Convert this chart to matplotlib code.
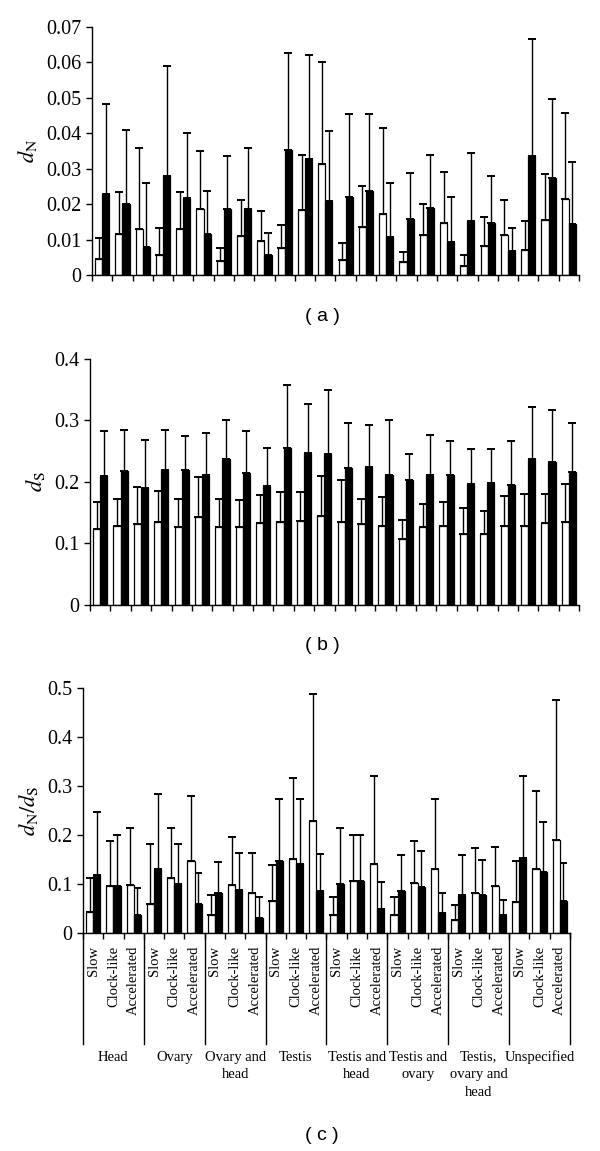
import numpy as np
import matplotlib
matplotlib.use("Agg")
from matplotlib import pyplot as plt
from matplotlib import transforms

plt.rcParams['font.family'] = ['Liberation Serif', 'DejaVu Serif']
plt.rcParams['mathtext.fontset'] = 'stix'

tissues = ["Head", "Ovary", "Ovary and\nhead", "Testis", "Testis and\nhead",
           "Testis and\novary", "Testis,\novary and\nhead", "Unspecified"]
rates = ["Slow", "Clock-like", "Accelerated"]

# bar heights and upper end of the error bar, white / black bars
dn_white = [0.0045, 0.0117, 0.0131, 0.0055, 0.0131, 0.0187, 0.0039, 0.0109, 0.0097, 0.0075, 0.0182, 0.0312,
            0.0042, 0.0134, 0.0171, 0.0036, 0.0112, 0.0148, 0.0026, 0.0083, 0.0112, 0.0070, 0.0155, 0.0215]
dn_white_top = [0.0105, 0.0235, 0.0358, 0.0132, 0.0235, 0.0350, 0.0077, 0.0211, 0.0181, 0.0142, 0.0338, 0.0600,
                0.0089, 0.0252, 0.0414, 0.0066, 0.0200, 0.0290, 0.0056, 0.0164, 0.0212, 0.0151, 0.0286, 0.0458]
dn_black = [0.0228, 0.0201, 0.0079, 0.0278, 0.0216, 0.0117, 0.0187, 0.0187, 0.0055, 0.0352, 0.0327, 0.0209,
            0.0221, 0.0236, 0.0107, 0.0159, 0.0190, 0.0094, 0.0151, 0.0146, 0.0069, 0.0337, 0.0275, 0.0144]
dn_black_top = [0.0483, 0.0409, 0.0259, 0.0589, 0.0401, 0.0238, 0.0336, 0.0357, 0.0119, 0.0627, 0.0622, 0.0406,
                0.0453, 0.0453, 0.0259, 0.0288, 0.0339, 0.0220, 0.0344, 0.0280, 0.0132, 0.0667, 0.0497, 0.0319]

ds_white = [0.123, 0.129, 0.131, 0.135, 0.127, 0.143, 0.127, 0.126, 0.134, 0.135, 0.137, 0.144,
            0.135, 0.131, 0.129, 0.107, 0.126, 0.128, 0.116, 0.116, 0.129, 0.129, 0.134, 0.135]
ds_white_top = [0.167, 0.172, 0.192, 0.186, 0.173, 0.208, 0.172, 0.170, 0.179, 0.183, 0.183, 0.210,
                0.203, 0.172, 0.175, 0.138, 0.164, 0.168, 0.158, 0.153, 0.178, 0.180, 0.180, 0.196]
ds_black = [0.210, 0.218, 0.190, 0.220, 0.220, 0.212, 0.238, 0.215, 0.193, 0.256, 0.247, 0.245,
            0.223, 0.225, 0.212, 0.203, 0.212, 0.212, 0.197, 0.198, 0.195, 0.238, 0.232, 0.216]
ds_black_top = [0.283, 0.285, 0.269, 0.285, 0.275, 0.279, 0.301, 0.283, 0.255, 0.357, 0.327, 0.350,
                0.296, 0.292, 0.300, 0.246, 0.276, 0.267, 0.254, 0.254, 0.267, 0.322, 0.317, 0.296]

ratio_white = [0.042, 0.095, 0.097, 0.059, 0.113, 0.146, 0.036, 0.097, 0.081, 0.065, 0.151, 0.229,
               0.036, 0.107, 0.141, 0.036, 0.103, 0.131, 0.027, 0.081, 0.095, 0.064, 0.131, 0.190]
ratio_white_top = [0.112, 0.188, 0.214, 0.181, 0.214, 0.279, 0.077, 0.195, 0.163, 0.139, 0.316, 0.488,
                   0.074, 0.199, 0.321, 0.074, 0.188, 0.273, 0.058, 0.173, 0.176, 0.146, 0.290, 0.475]
ratio_black = [0.118, 0.096, 0.037, 0.131, 0.099, 0.059, 0.081, 0.088, 0.031, 0.146, 0.141, 0.085,
               0.099, 0.107, 0.048, 0.086, 0.094, 0.040, 0.078, 0.078, 0.037, 0.153, 0.124, 0.066]
ratio_black_top = [0.247, 0.199, 0.091, 0.284, 0.182, 0.122, 0.144, 0.163, 0.073, 0.274, 0.273, 0.162,
                   0.214, 0.199, 0.105, 0.159, 0.168, 0.081, 0.160, 0.149, 0.067, 0.320, 0.226, 0.143]


def draw_panel(ax, white, white_top, black, black_top, ymax, step, ylabel):
    n = len(white)
    x = np.arange(n) + 0.5
    white = np.array(white)
    black = np.array(black)
    ax.bar(x - 0.175, white, width=0.35, color='white', edgecolor='black', linewidth=0.9, zorder=2)
    ax.bar(x + 0.175, black, width=0.35, color='black', edgecolor='black', linewidth=0.9, zorder=2)
    ax.errorbar(x - 0.175, white, yerr=[np.zeros(n), np.array(white_top) - white], fmt='none',
                ecolor='black', elinewidth=1, capsize=3, capthick=1.4, zorder=1)
    ax.errorbar(x + 0.175, black, yerr=[np.zeros(n), np.array(black_top) - black], fmt='none',
                ecolor='black', elinewidth=1, capsize=3, capthick=1.4, zorder=1)
    ax.set_xlim(0, n)
    ax.set_ylim(0, ymax)
    ticks = np.arange(0, ymax + step / 2, step)
    ax.set_yticks(ticks)
    ax.set_yticklabels(['0'] + ['%g' % t for t in ticks[1:]], fontsize=14.5)
    ax.set_xticks(np.arange(n + 1))
    ax.set_xticklabels([])
    ax.tick_params(axis='both', direction='out', length=4, width=1)
    ax.spines['top'].set_visible(False)
    ax.spines['right'].set_visible(False)
    ax.spines['left'].set_linewidth(1)
    ax.spines['bottom'].set_linewidth(1)
    ax.set_ylabel(ylabel, fontsize=16, labelpad=5)


fig = plt.figure(figsize=[6, 11.51], dpi=100)

ax1 = fig.add_axes([0.1533, 0.7611, 0.8117, 0.2155])
draw_panel(ax1, dn_white, dn_white_top, dn_black, dn_black_top, 0.07, 0.01, r'$d_{\mathrm{N}}$')

ax2 = fig.add_axes([0.15, 0.4744, 0.815, 0.2137])
draw_panel(ax2, ds_white, ds_white_top, ds_black, ds_black_top, 0.4, 0.1, r'$d_{\mathrm{S}}$')

ax3 = fig.add_axes([0.1383, 0.1894, 0.8117, 0.2129])
draw_panel(ax3, ratio_white, ratio_white_top, ratio_black, ratio_black_top, 0.5, 0.1,
           r'$d_{\mathrm{N}}/d_{\mathrm{S}}$')

# category labels and group dividers under panel (c)
trans = transforms.blended_transform_factory(ax3.transData, ax3.transAxes)
for g, tissue in enumerate(tissues):
    for r, rate in enumerate(rates):
        ax3.text(g * 3 + r + 0.5, -0.053, rate, rotation=90, ha='center', va='top',
                 fontsize=10.5, transform=trans)
    ax3.text(g * 3 + 1.5, -0.48, tissue, ha='center', va='top', fontsize=10.5,
             linespacing=1.45, transform=trans)
for g in range(len(tissues) + 1):
    ax3.plot([g * 3, g * 3], [0, -0.453], color='black', linewidth=1,
             transform=trans, clip_on=False)

for label, ypix in [('( a )', 317), ('( b )', 645), ('( c )', 1135)]:
    fig.text(322 / 600, 1 - ypix / 1151, label, ha='center', va='center',
             fontsize=14, family='Liberation Sans')

fig.savefig('out.png', dpi=100)
